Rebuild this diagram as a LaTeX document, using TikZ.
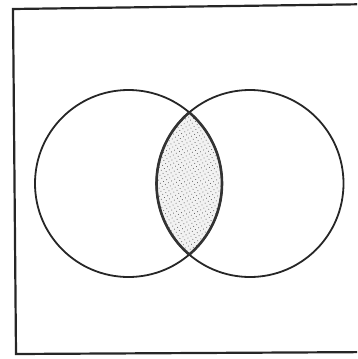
\documentclass[tikz,border=0pt]{standalone}
\usetikzlibrary{patterns.meta}
\begin{document}
\begin{tikzpicture}[x=1pt,y=-1pt,
  setline/.style={line width=1.8pt,black!85},
  frame/.style={line width=2.2pt,black!85},
  lens/.style={line width=2.6pt,black!80}]
\useasboundingbox (0,0) rectangle (357,359);
\clip (0,0) rectangle (357,359);
\coordinate (A) at (128.5,183.5);
\coordinate (B) at (250,183.5);
% frame
\draw[frame] (380,4) -- (13,9) -- (16,354) -- (380,352);
% shaded intersection
\begin{scope}
  \clip (A) circle (93.5);
  \fill[gray!10] (B) circle (93.5);
  \fill[pattern={Dots[radius=0.55pt,distance=3.6pt,angle=30]},pattern color=black!60] (B) circle (93.5);
\end{scope}
% circles
\draw[setline] (A) circle (93.5);
\draw[setline] (B) circle (93.5);
% thicker lens boundary
\begin{scope}
  \clip (A) circle (93.5);
  \draw[lens] (B) circle (93.5);
\end{scope}
\begin{scope}
  \clip (B) circle (93.5);
  \draw[lens] (A) circle (93.5);
\end{scope}
\end{tikzpicture}
\end{document}
